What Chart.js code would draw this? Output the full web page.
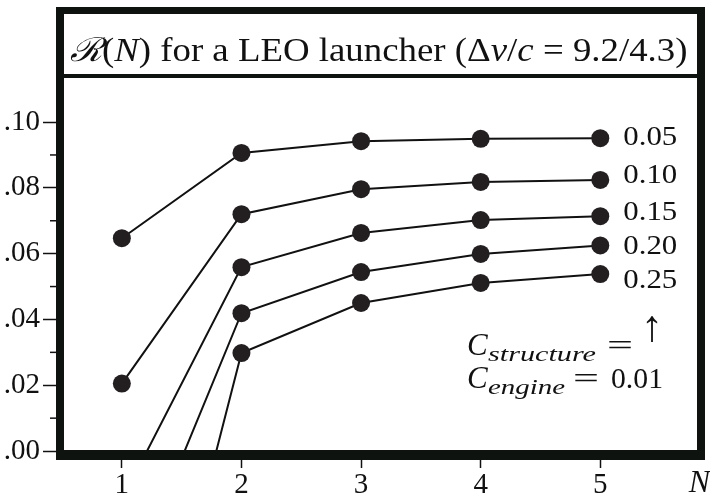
<!DOCTYPE html>
<html>
<head>
<meta charset="utf-8">
<script src="https://cdn.jsdelivr.net/npm/chart.js@4.4.0/dist/chart.umd.min.js"></script>
<style>
  html, body { margin: 0; padding: 0; background: #fff; }
</style>
</head>
<body>
<canvas id="rChart" width="710" height="499"></canvas>
<script>
"use strict";

// number of stages
const stages = [1, 2, 3, 4, 5];

// structure coefficients, one curve each
const structureLabels = ["0.05", "0.10", "0.15", "0.20", "0.25"];

// payload ratio R(N) per curve (single stage goes negative for heavy structures)
const rStruct005 = [0.0647, 0.0906, 0.0942, 0.0949, 0.0951];
const rStruct010 = [0.0205, 0.0720, 0.0796, 0.0818, 0.0824];
const rStruct015 = [-0.0149, 0.0559, 0.0663, 0.0702, 0.0714];
const rStruct020 = [-0.0463, 0.0419, 0.0544, 0.0599, 0.0625];
const rStruct025 = [-0.1120, 0.0298, 0.0450, 0.0511, 0.0538];

// y axis ticks
const yTickValues = [0, 0.02, 0.04, 0.06, 0.08, 0.10];
const yTickLabels = [".00", ".02", ".04", ".06", ".08", ".10"];
const yMinorTicks = [0.01, 0.03, 0.05, 0.07, 0.09];

const allSeries = [rStruct005, rStruct010, rStruct015, rStruct020, rStruct025];
const ink = "#111";
const serif = "'Liberation Serif', 'DejaVu Serif', serif";

// draw text squeezed/stretched to a given width
function fitText(ctx, text, font, x, y, width) {
  ctx.font = font;
  const w = ctx.measureText(text).width;
  ctx.save();
  ctx.translate(x, y);
  ctx.scale(width / w, 1);
  ctx.fillText(text, 0, 0);
  ctx.restore();
}

// black frame, title box and the extra text
const framePlugin = {
  id: "frame",
  afterDraw(chart) {
    const ctx = chart.ctx;
    const a = chart.chartArea;
    ctx.save();

    // minor ticks on y
    const ys = chart.scales.y;
    ctx.strokeStyle = ink;
    ctx.lineWidth = 1.5;
    yMinorTicks.forEach(function (v) {
      const py = ys.getPixelForValue(v);
      ctx.beginPath();
      ctx.moveTo(a.left - 10, py);
      ctx.lineTo(a.left, py);
      ctx.stroke();
    });

    // frame bars
    ctx.fillStyle = "#0e130f";
    const top = 7;
    ctx.fillRect(a.left - 4, top, 8, a.bottom + 5 - top);
    ctx.fillRect(a.right - 4, top, 8, a.bottom + 5 - top);
    ctx.fillRect(a.left - 4, top, a.right - a.left + 8, 7);
    ctx.fillRect(a.left - 4, a.bottom - 5, a.right - a.left + 8, 10);
    ctx.fillRect(a.left, a.top - 2, a.right - a.left, 4);

    // title with mixed fonts, stretched to fill the box
    const parts = [
      ["\u211B", "italic 33px 'DejaVu Serif', serif"],
      ["(", "33px " + serif],
      ["N", "italic 33px " + serif],
      [") for a LEO launcher (\u0394", "33px " + serif],
      ["v", "italic 33px " + serif],
      ["/", "33px " + serif],
      ["c", "italic 33px " + serif],
      [" = 9.2/4.3)", "33px " + serif]
    ];
    ctx.fillStyle = ink;
    ctx.textBaseline = "alphabetic";
    ctx.textAlign = "left";
    let total = 0;
    parts.forEach(function (p) { ctx.font = p[1]; total += ctx.measureText(p[0]).width; });
    const titleW = 618;
    ctx.save();
    ctx.translate((a.left + a.right) / 2 - titleW / 2 - 2, 61);
    ctx.scale(titleW / total, 1);
    let x = 0;
    parts.forEach(function (p) {
      ctx.font = p[1];
      ctx.fillText(p[0], x, 0);
      x += ctx.measureText(p[0]).width;
    });
    ctx.restore();

    // curve labels next to the last point
    const offsets = [0, -4, -3, 1, 7];
    ctx.textBaseline = "middle";
    chart.data.datasets.forEach(function (ds, i) {
      const meta = chart.getDatasetMeta(i);
      const pt = meta.data[meta.data.length - 1];
      fitText(ctx, ds.label, "27px " + serif, pt.x + 23, pt.y + offsets[i], 54);
    });

    // coefficient note
    ctx.textBaseline = "alphabetic";
    ctx.textAlign = "center";
    ctx.font = "44px " + serif;
    ctx.fillText("\u2191", 652, 341);
    ctx.textAlign = "left";
    ctx.font = "italic 31px " + serif;
    ctx.fillText("C", 467, 355);
    fitText(ctx, "structure", "italic 22px " + serif, 488, 361, 108);
    fitText(ctx, "=", "30px " + serif, 607, 355, 26);
    ctx.font = "italic 31px " + serif;
    ctx.fillText("C", 467, 388);
    fitText(ctx, "engine", "italic 22px " + serif, 488, 394, 77);
    fitText(ctx, "=", "30px " + serif, 573, 388, 26);
    fitText(ctx, "0.01", "29px " + serif, 611, 388, 52);

    // axis name
    ctx.font = "italic 32px " + serif;
    ctx.textAlign = "right";
    ctx.fillText("N", 710, 492);
    ctx.restore();
  }
};

new Chart(document.getElementById("rChart"), {
  type: "line",
  data: {
    datasets: allSeries.map(function (vals, i) {
      return {
        label: structureLabels[i],
        data: stages.map(function (n, j) { return { x: n, y: vals[j] }; }),
        borderColor: ink,
        borderWidth: 2,
        pointRadius: 9,
        pointBackgroundColor: "#231f20",
        pointBorderWidth: 0,
        tension: 0,
        clip: 0
      };
    })
  },
  options: {
    responsive: false,
    animation: false,
    layout: { padding: { top: 76, right: 7, left: 0, bottom: 0 } },
    plugins: { legend: { display: false }, tooltip: { enabled: false } },
    scales: {
      x: {
        type: "linear",
        min: 0.483,
        max: 5.842,
        afterBuildTicks: function (s) { s.ticks = stages.map(function (v) { return { value: v }; }); },
        afterFit: function (s) { s.height = 44; },
        grid: { drawOnChartArea: false, tickLength: 13, tickColor: ink, tickWidth: 1.5 },
        border: { display: false },
        ticks: { font: { family: serif, size: 29 }, color: ink, padding: 0, maxRotation: 0 }
      },
      y: {
        min: -0.0012,
        max: 0.114,
        afterBuildTicks: function (s) { s.ticks = yTickValues.map(function (v) { return { value: v }; }); },
        afterFit: function (s) { s.width = 60; },
        grid: { drawOnChartArea: false, tickLength: 17, tickColor: ink, tickWidth: 1.5 },
        border: { display: false },
        ticks: {
          font: { family: serif, size: 29 },
          color: ink,
          padding: 3,
          callback: function (v, i) { return yTickLabels[i]; }
        }
      }
    }
  },
  plugins: [framePlugin]
});
</script>
</body>
</html>
